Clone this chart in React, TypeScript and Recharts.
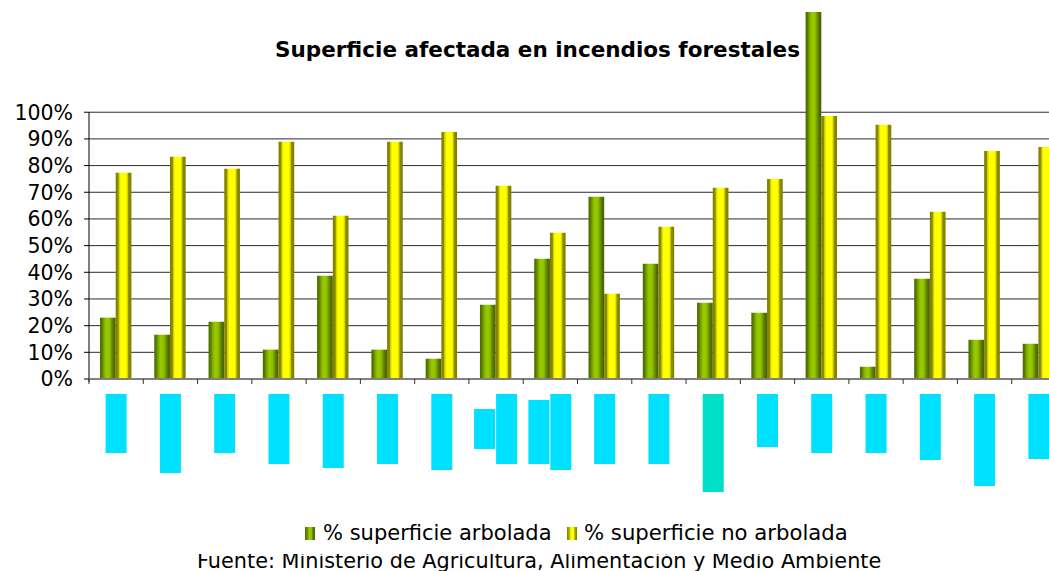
import React from 'react';
import { BarChart, Bar, XAxis, YAxis, CartesianGrid, Legend, ReferenceArea } from 'recharts';

const TITLE = 'Superficie afectada en incendios forestales';
const SOURCE = 'Fuente: Ministerio de Agricultura, Alimentación y Medio Ambiente';
const SERIES_NAMES = ['% superficie arbolada', '% superficie no arbolada'];

const categories = ['C01', 'C02', 'C03', 'C04', 'C05', 'C06', 'C07', 'C08', 'C09', 'C10', 'C11', 'C12', 'C13', 'C14', 'C15', 'C16', 'C17', 'C18'];
const arbolada = [0.230, 0.166, 0.215, 0.110, 0.387, 0.110, 0.076, 0.278, 0.451, 0.683, 0.432, 0.286, 0.248, 1.45, 0.046, 0.376, 0.147, 0.132];
const noArbolada = [0.773, 0.833, 0.788, 0.889, 0.612, 0.889, 0.926, 0.724, 0.548, 0.320, 0.571, 0.717, 0.750, 0.986, 0.953, 0.627, 0.855, 0.870];
const yTicks = [0, 0.1, 0.2, 0.3, 0.4, 0.5, 0.6, 0.7, 0.8, 0.9, 1.0];
// hidden (blanked-out) category label lines, per category
const labelLineLengths = [[59], [79], [59], [70], [74], [70], [76], [40, 70], [64, 76], [70], [70], [98], [53], [59], [59], [66], [92], [65]];
const TEAL_LABEL_INDEX = 11;

const data = categories.map((c, i) => ({ name: c, arbolada: arbolada[i], noArbolada: noArbolada[i] }));

const FONT = '"DejaVu Sans", Verdana, sans-serif';

const XTick = (props: any) => {
  const { x, y, payload, index } = props;
  const half = payload && payload.offset != null ? payload.offset : 27;
  const lines = labelLineLengths[index] || [];
  const maxLen = Math.max(...lines);
  const fill = index === TEAL_LABEL_INDEX ? '#00dfc8' : '#00e1ff';
  const n = lines.length;
  return (
    <g>
      <line x1={x - half} x2={x - half} y1={y} y2={y + 5} stroke="#333" strokeWidth={1} />
      {lines.map((len, j) => {
        const rx = n === 1 ? x - 10.5 : x - 22 + j * 22;
        const ry = y + 15 + (maxLen - len) / 2;
        return <rect key={j} x={rx} y={ry} width={21} height={len} fill={fill} />;
      })}
    </g>
  );
};

const AxisEdge = (p: any) => (
  <line x1={p.x} x2={p.x} y1={p.y} y2={p.y + p.height + 3} stroke="#000" strokeWidth={1} />
);

const LegendContent = () => (
  <svg width={1066} height={60} style={{ display: 'block' }}>
    <defs>
      <linearGradient id="lgGreen" x1="0" y1="0" x2="1" y2="0">
        <stop offset="0" stopColor="#4d6b00" />
        <stop offset="0.25" stopColor="#6e9600" />
        <stop offset="0.45" stopColor="#99cc00" />
        <stop offset="0.65" stopColor="#8fbf00" />
        <stop offset="0.8" stopColor="#5a7d00" />
        <stop offset="1" stopColor="#4a6400" />
      </linearGradient>
      <linearGradient id="lgYellow" x1="0" y1="0" x2="1" y2="0">
        <stop offset="0" stopColor="#808000" />
        <stop offset="0.25" stopColor="#b5b500" />
        <stop offset="0.4" stopColor="#ffff00" />
        <stop offset="0.65" stopColor="#ffff00" />
        <stop offset="0.8" stopColor="#a0a000" />
        <stop offset="1" stopColor="#808000" />
      </linearGradient>
      <clipPath id="srcClip">
        <rect x={0} y={43} width={1066} height={17} />
      </clipPath>
    </defs>
    <rect x={305} y={16} width={10} height={13} fill="url(#lgGreen)" />
    <text x={323} y={29} fontFamily={FONT} fontSize={21} fill="#000">{SERIES_NAMES[0]}</text>
    <rect x={567} y={16} width={10} height={13} fill="url(#lgYellow)" />
    <text x={584} y={29} fontFamily={FONT} fontSize={21.2} fill="#000">{SERIES_NAMES[1]}</text>
    <g clipPath="url(#srcClip)">
      <text x={197} y={57} fontFamily={FONT} fontSize={20.8} fill="#000">{SOURCE}</text>
    </g>
  </svg>
);

export default function App() {
  return (
    <div style={{ position: 'fixed', left: 0, top: 0, width: 1049, height: 571, overflow: 'hidden', background: '#fff' }}>
      <BarChart
        width={1066}
        height={571}
        data={data}
        margin={{ top: 12, right: 0, bottom: 0, left: 0 }}
        barGap={0}
        barSize={15.7}
      >
        <defs>
          <linearGradient id="barGreen" x1="0" y1="0" x2="1" y2="0">
            <stop offset="0" stopColor="#4b6800" />
            <stop offset="0.12" stopColor="#587a00" />
            <stop offset="0.25" stopColor="#7aa800" />
            <stop offset="0.4" stopColor="#98ca00" />
            <stop offset="0.6" stopColor="#92c200" />
            <stop offset="0.75" stopColor="#6c9200" />
            <stop offset="0.88" stopColor="#506e00" />
            <stop offset="1" stopColor="#4a6300" />
          </linearGradient>
          <linearGradient id="barYellow" x1="0" y1="0" x2="1" y2="0">
            <stop offset="0" stopColor="#7f7f00" />
            <stop offset="0.16" stopColor="#8c8c00" />
            <stop offset="0.2" stopColor="#c8c800" />
            <stop offset="0.32" stopColor="#ffff00" />
            <stop offset="0.66" stopColor="#ffff00" />
            <stop offset="0.76" stopColor="#d2d200" />
            <stop offset="0.82" stopColor="#8c8c00" />
            <stop offset="1" stopColor="#7f7f00" />
          </linearGradient>
        </defs>
        <CartesianGrid vertical={false} horizontalValues={yTicks} stroke="#2a2a2a" strokeWidth={1} />
        <XAxis
          dataKey="name"
          interval={0}
          height={132}
          tickSize={0}
          tickMargin={0}
          tickLine={false}
          axisLine={{ stroke: '#7f7f7f', strokeWidth: 2 }}
          tick={<XTick />}
        />
        <YAxis
          width={89}
          domain={[0, 1.3757]}
          allowDataOverflow
          ticks={yTicks}
          interval={0}
          axisLine={false}
          tickLine={{ stroke: '#000' }}
          tickSize={5}
          tickMargin={11}
          tickFormatter={(v: number) => `${Math.round(v * 100)}%`}
          tick={{ fill: '#000', fontSize: 20.5, fontFamily: FONT }}
        />
        <ReferenceArea
          x1={categories[0]}
          x2={categories[0]}
          y1={0}
          y2={1}
          shape={AxisEdge}
        />
        <Bar dataKey="arbolada" name={SERIES_NAMES[0]} fill="url(#barGreen)" isAnimationActive={false} />
        <Bar dataKey="noArbolada" name={SERIES_NAMES[1]} fill="url(#barYellow)" isAnimationActive={false} />
        <Legend verticalAlign="bottom" content={<LegendContent />} />
        <text x={275} y={57} fontFamily={FONT} fontWeight="bold" fontSize={21.5} fill="#000">{TITLE}</text>
      </BarChart>
    </div>
  );
}
